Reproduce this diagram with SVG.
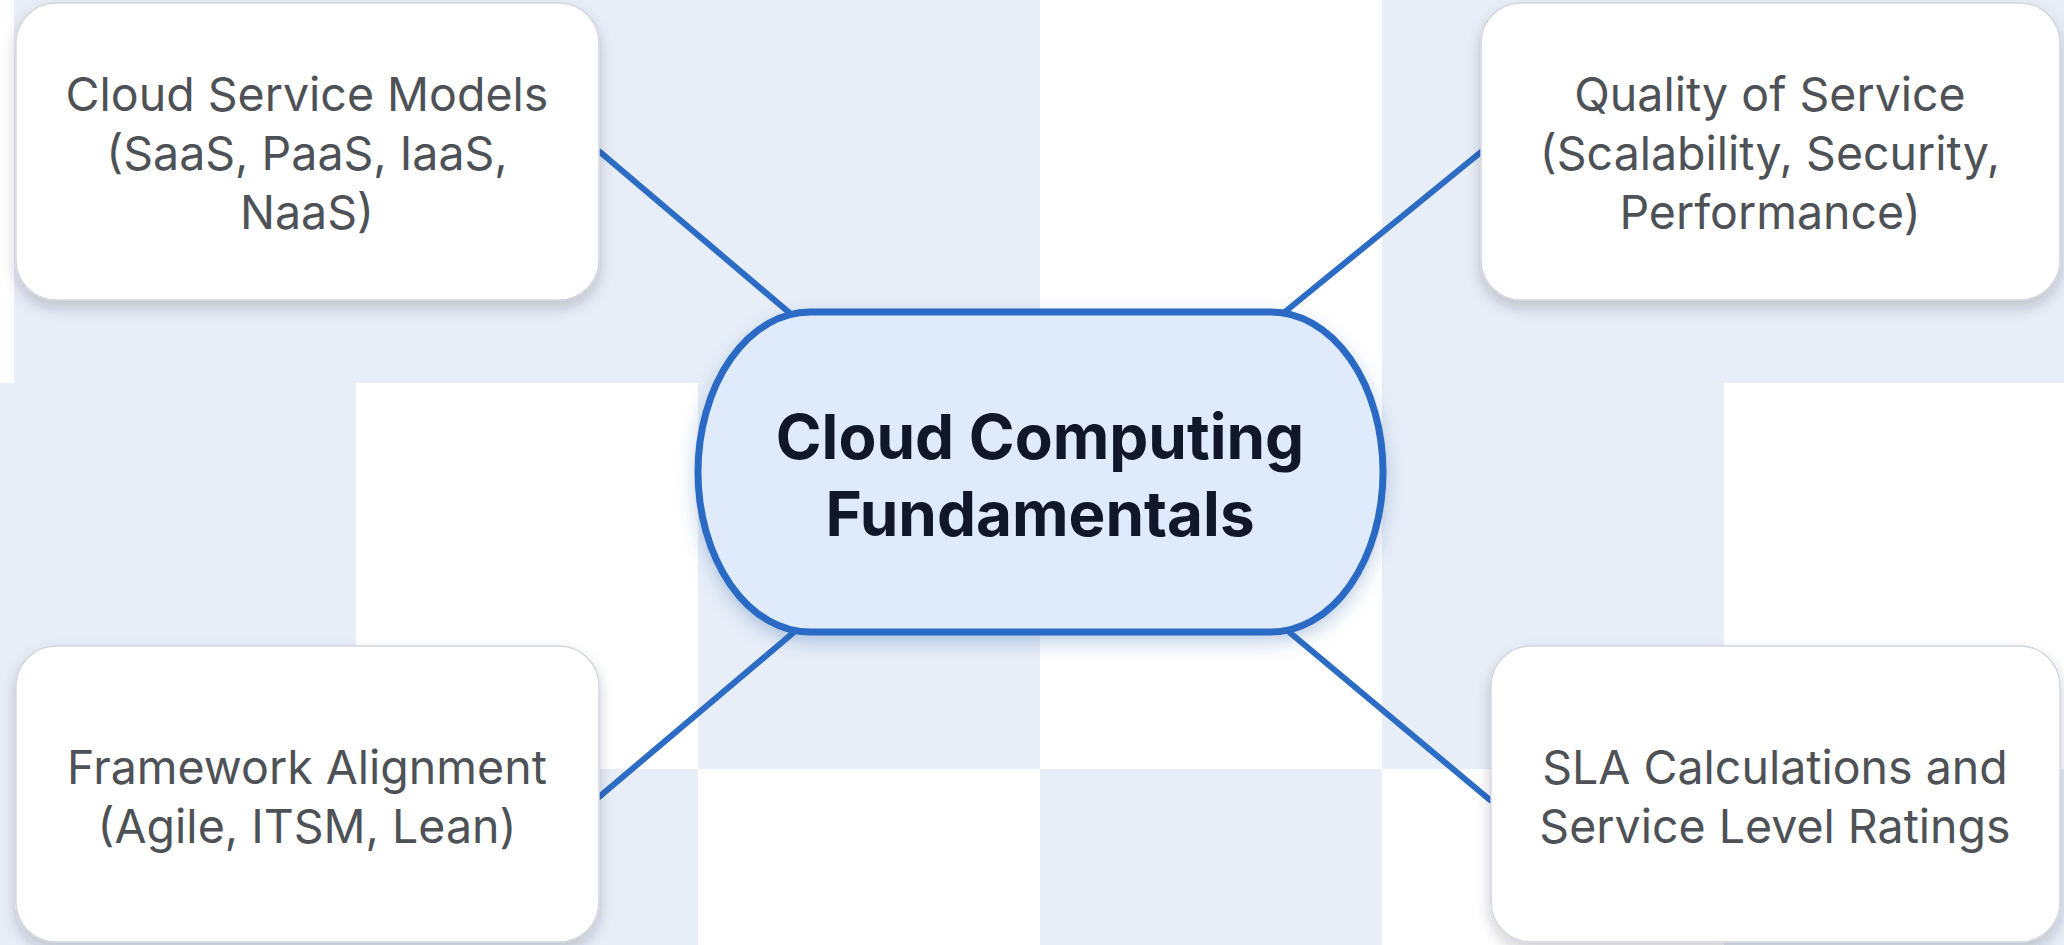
<svg xmlns="http://www.w3.org/2000/svg" width="2064" height="945" viewBox="0 0 2064 945">
  <style>
    .bgb { fill: #e8eef7; }
    .bgw { fill: #ffffff; }
    .box { fill: #ffffff; stroke: #d3d7de; stroke-width: 1.5; }
    .lbl { font-family: Inter, "Noto Sans", "Liberation Sans", sans-serif; font-size: 46.5px; fill: #4e5257; text-anchor: middle; }
    .title { font-family: Inter, "Noto Sans", "Liberation Sans", sans-serif; font-size: 62px; font-weight: 700; fill: #0f1729; text-anchor: middle; }
    .conn { stroke: #2c6cc4; stroke-width: 6; stroke-linecap: round; fill: none; }
    .hub { fill: #dfeafa; stroke: #2a6bc5; stroke-width: 7; }
  </style>
  <defs>
    <filter id="sh" x="-10%" y="-10%" width="120%" height="130%">
      <feDropShadow dx="0" dy="7" stdDeviation="7" flood-color="#1e2a3a" flood-opacity="0.22"/>
    </filter>
    <filter id="shb" x="-10%" y="-10%" width="120%" height="130%">
      <feDropShadow dx="0" dy="7" stdDeviation="9" flood-color="#2a5ea8" flood-opacity="0.3"/>
    </filter>
  </defs>

  <g id="background">
    <rect class="bgw" x="0" y="0" width="2064" height="945"/>
    <rect class="bgb" x="14" y="0" width="1026" height="383"/>
    <rect class="bgb" x="1382" y="0" width="682" height="383"/>
    <rect class="bgb" x="0" y="383" width="356" height="386"/>
    <rect class="bgb" x="698" y="383" width="342" height="386"/>
    <rect class="bgb" x="1382" y="383" width="342" height="386"/>
    <rect class="bgb" x="0" y="769" width="698" height="176"/>
    <rect class="bgb" x="1040" y="769" width="342" height="176"/>
    <rect class="bgb" x="1724" y="769" width="340" height="176"/>
  </g>

  <g id="connectors">
    <line class="conn" x1="600" y1="152" x2="805" y2="326"/>
    <line class="conn" x1="1270" y1="324" x2="1481" y2="152"/>
    <line class="conn" x1="599" y1="797" x2="806" y2="622"/>
    <line class="conn" x1="1276" y1="621" x2="1490" y2="800"/>
  </g>

  <g id="node-service-models">
    <rect class="box" filter="url(#sh)" x="16" y="3" width="583" height="297" rx="40" ry="40"/>
    <text class="lbl" x="307" y="111">Cloud Service Models</text>
    <text class="lbl" x="307" y="170">(SaaS, PaaS, IaaS,</text>
    <text class="lbl" x="307" y="229">NaaS)</text>
  </g>

  <g id="node-quality">
    <rect class="box" filter="url(#sh)" x="1481" y="3" width="579" height="297" rx="40" ry="40"/>
    <text class="lbl" x="1770" y="111">Quality of Service</text>
    <text class="lbl" x="1770" y="170">(Scalability, Security,</text>
    <text class="lbl" x="1770" y="229">Performance)</text>
  </g>

  <g id="node-framework">
    <rect class="box" filter="url(#sh)" x="16" y="646" width="583" height="296" rx="40" ry="40"/>
    <text class="lbl" x="307" y="784">Framework Alignment</text>
    <text class="lbl" x="307" y="843">(Agile, ITSM, Lean)</text>
  </g>

  <g id="node-sla">
    <rect class="box" filter="url(#sh)" x="1491" y="646" width="569" height="296" rx="40" ry="40"/>
    <text class="lbl" x="1775" y="784">SLA Calculations and</text>
    <text class="lbl" x="1775" y="843">Service Level Ratings</text>
  </g>

  <g id="node-center">
    <rect class="hub" filter="url(#shb)" x="698" y="312" width="685" height="320" rx="112" ry="160"/>
    <text class="title" x="1040" y="459">Cloud Computing</text>
    <text class="title" x="1040" y="536">Fundamentals</text>
  </g>
</svg>
